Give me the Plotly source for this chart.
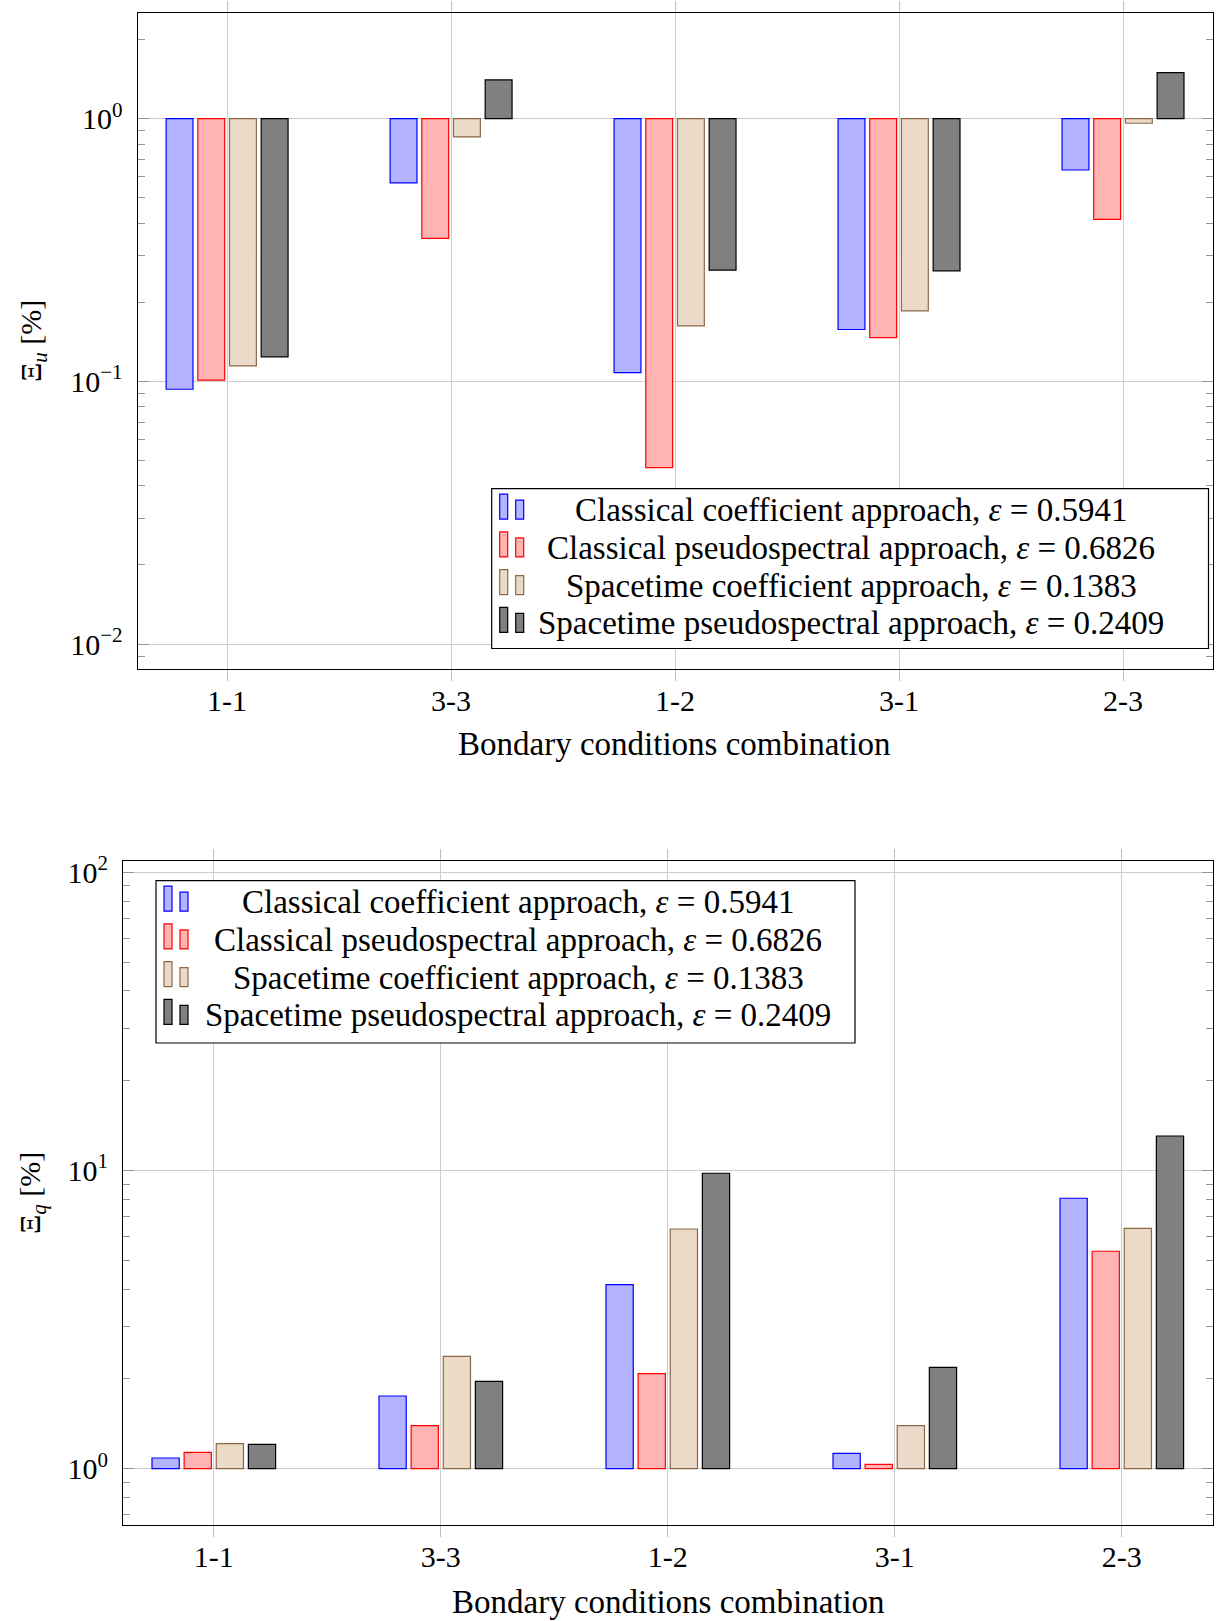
import plotly.graph_objects as go

# ---------------- data ----------------
categories = ["1-1", "3-3", "1-2", "3-1", "2-3"]

series_names = [
    "Classical coefficient approach, <i>ε</i> = 0.5941",
    "Classical pseudospectral approach, <i>ε</i> = 0.6826",
    "Spacetime coefficient approach, <i>ε</i> = 0.1383",
    "Spacetime pseudospectral approach, <i>ε</i> = 0.2409",
]

# Xi_u [%]  (top panel)
xi_u_classical_coef = [0.0933, 0.569, 0.108, 0.1575, 0.6375]
xi_u_classical_ps = [0.101, 0.350, 0.0469, 0.1468, 0.4136]
xi_u_spacetime_coef = [0.1145, 0.852, 0.1626, 0.1855, 0.960]
xi_u_spacetime_ps = [0.124, 1.404, 0.265, 0.2635, 1.497]

# Xi_q [%]  (bottom panel)
xi_q_classical_coef = [1.086, 1.753, 4.14, 1.126, 8.07]
xi_q_classical_ps = [1.135, 1.394, 2.083, 1.034, 5.36]
xi_q_spacetime_coef = [1.213, 2.382, 6.365, 1.394, 6.40]
xi_q_spacetime_ps = [1.207, 1.963, 9.79, 2.188, 13.05]

top_tickvals = [0.01, 0.1, 1]
top_ticktext = ["10<sup>−2</sup>", "10<sup>−1</sup>", "10<sup>0</sup>"]
bot_tickvals = [1, 10, 100]
bot_ticktext = ["10<sup>0</sup>", "10<sup>1</sup>", "10<sup>2</sup>"]

x_title = "Bondary conditions combination"
y_title_top = "Ξ<sub><i>u</i></sub> [%]"
y_title_bot = "Ξ<sub><i>q</i></sub> [%]"

# ---------------- styles ----------------
fills = ["rgb(179,179,255)", "rgb(255,179,179)", "rgb(235,218,199)", "rgb(128,128,128)"]
edges = ["rgb(0,0,255)", "rgb(255,0,0)", "rgb(140,105,70)", "rgb(0,0,0)"]

W, H = 1225, 1621
FONT = "Liberation Serif"
TICKFONT = 30
TEXTFONT = 33


def px(x):
    return x / W


def py(y):
    return 1 - y / H


fig = go.Figure()

top_series = [xi_u_classical_coef, xi_u_classical_ps, xi_u_spacetime_coef, xi_u_spacetime_ps]
bot_series = [xi_q_classical_coef, xi_q_classical_ps, xi_q_spacetime_coef, xi_q_spacetime_ps]

for i, vals in enumerate(top_series):
    fig.add_trace(go.Bar(
        x=categories, y=[v - 1 for v in vals], base=1,
        marker=dict(color=fills[i], line=dict(color=edges[i], width=1.2)),
        name=series_names[i], showlegend=False, xaxis="x", yaxis="y",
        customdata=vals, hovertemplate="%{x}: %{customdata}<extra></extra>",
    ))
for i, vals in enumerate(bot_series):
    fig.add_trace(go.Bar(
        x=categories, y=[v - 1 for v in vals], base=1,
        marker=dict(color=fills[i], line=dict(color=edges[i], width=1.2)),
        name=series_names[i], showlegend=False, xaxis="x2", yaxis="y2",
        customdata=vals, hovertemplate="%{x}: %{customdata}<extra></extra>",
    ))

grid_col = "rgb(205,205,205)"
tick_col = "rgb(150,150,150)"

xcommon = dict(
    type="category", range=[-0.4, 4.4], showline=True, linecolor="black", linewidth=1,
    mirror="ticks", ticks="outside", ticklen=11, tickcolor="rgb(190,190,190)", tickwidth=1,
    showgrid=True, gridcolor=grid_col, gridwidth=1, automargin=False,
    tickfont=dict(family=FONT, size=TICKFONT, color="black"), ticklabelstandoff=-6,
)
ycommon = dict(
    type="log", showline=True, linecolor="black", linewidth=1, mirror="ticks",
    ticks="inside", ticklen=11, tickcolor=tick_col, tickwidth=1,
    showgrid=True, gridcolor=grid_col, gridwidth=1, zeroline=False, automargin=False,
    tickmode="array",
    tickfont=dict(family=FONT, size=TICKFONT, color="black"), ticklabelstandoff=8,
    minor=dict(ticks="inside", ticklen=7, tickcolor=tick_col, tickwidth=1, dtick="D1", showgrid=False),
)

fig.update_layout(
    width=W, height=H, margin=dict(l=0, r=0, t=0, b=0, autoexpand=False),
    paper_bgcolor="white", plot_bgcolor="white",
    barmode="group", bargap=0.434, bargroupgap=0.152,
    showlegend=False,
    font=dict(family=FONT, size=TEXTFONT, color="black"),
    xaxis=dict(domain=[px(137.5), px(1212.6)], anchor="y", **xcommon),
    yaxis=dict(domain=[py(669), py(13)], anchor="x", range=[-2.095, 0.402],
               tickvals=top_tickvals, ticktext=top_ticktext, **ycommon),
    xaxis2=dict(domain=[px(123), px(1212.6)], anchor="y2", **xcommon),
    yaxis2=dict(domain=[py(1525), py(860.7)], anchor="x2", range=[-0.1888, 2.0389],
                tickvals=bot_tickvals, ticktext=bot_ticktext, **ycommon),
)

annotations = []
shapes = []

# axis titles
annotations.append(dict(text=x_title, x=px(675), y=py(744), xref="paper", yref="paper",
                        showarrow=False, xanchor="center", yanchor="middle",
                        font=dict(family=FONT, size=TEXTFONT)))
annotations.append(dict(text=x_title, x=px(668), y=py(1602), xref="paper", yref="paper",
                        showarrow=False, xanchor="center", yanchor="middle",
                        font=dict(family=FONT, size=TEXTFONT)))
annotations.append(dict(text=y_title_top, x=px(33), y=py(341), xref="paper", yref="paper",
                        showarrow=False, xanchor="center", yanchor="middle", textangle=-90,
                        font=dict(family=FONT, size=30)))
annotations.append(dict(text=y_title_bot, x=px(32), y=py(1193), xref="paper", yref="paper",
                        showarrow=False, xanchor="center", yanchor="middle", textangle=-90,
                        font=dict(family=FONT, size=30)))


def add_legend(x0, y0, x1, y1, text_cx):
    shapes.append(dict(type="rect", xref="paper", yref="paper",
                       x0=px(x0), x1=px(x1), y0=py(y1), y1=py(y0),
                       line=dict(color="black", width=1.2), fillcolor="white", layer="above"))
    for i in range(4):
        ry = y0 + 5.5 + i * 37.7
        shapes.append(dict(type="rect", xref="paper", yref="paper",
                           x0=px(x0 + 8), x1=px(x0 + 16), y0=py(ry + 25), y1=py(ry),
                           line=dict(color=edges[i], width=1.2), fillcolor=fills[i], layer="above"))
        shapes.append(dict(type="rect", xref="paper", yref="paper",
                           x0=px(x0 + 24), x1=px(x0 + 32), y0=py(ry + 25), y1=py(ry + 6),
                           line=dict(color=edges[i], width=1.2), fillcolor=fills[i], layer="above"))
        annotations.append(dict(text=series_names[i], x=px(text_cx), y=py(ry + 16),
                                xref="paper", yref="paper", showarrow=False,
                                xanchor="center", yanchor="middle",
                                font=dict(family=FONT, size=TEXTFONT)))


add_legend(491.7, 488.7, 1208.5, 648.5, 851)
add_legend(156, 880.7, 855, 1043, 518)

fig.update_layout(annotations=annotations, shapes=shapes)

fig.write_html("out.html")
